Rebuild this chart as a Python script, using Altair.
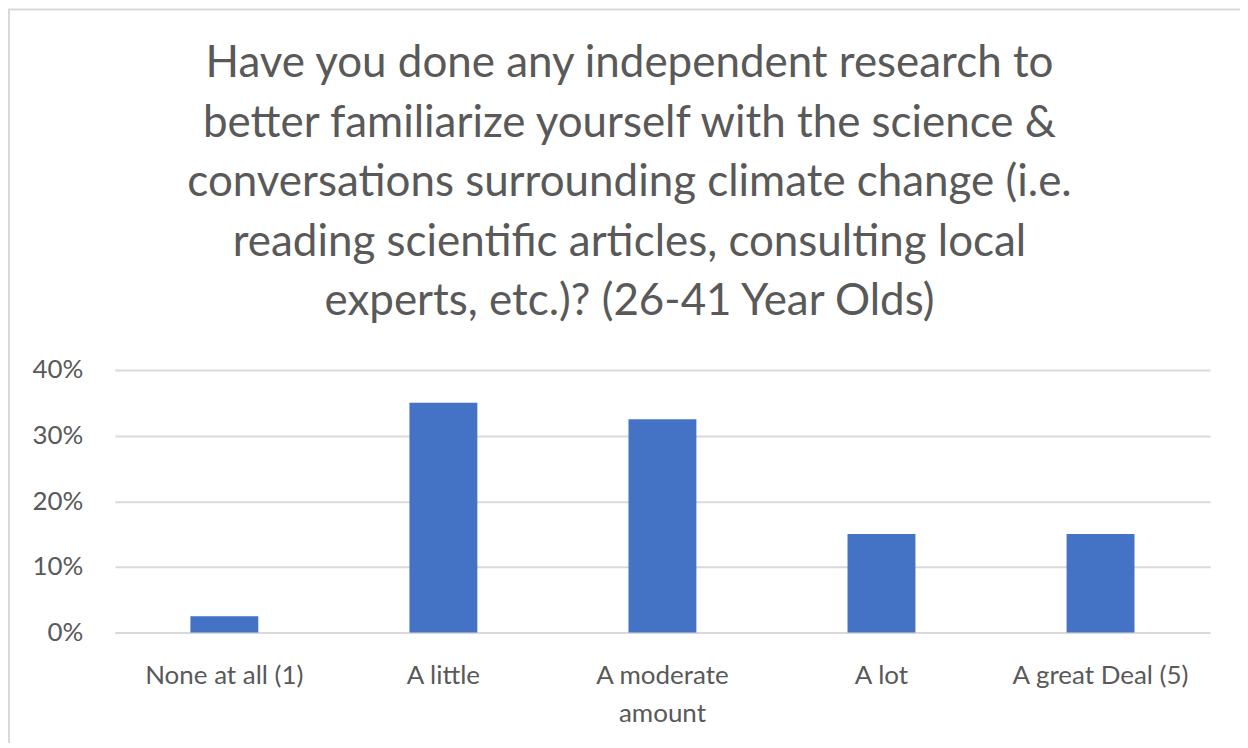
import altair as alt
import pandas as pd

categories = ["None at all (1)", "A little", "A moderate amount", "A lot", "A great Deal (5)"]
shares = [0.025, 0.35, 0.325, 0.15, 0.15]
y_ticks = [0, 0.1, 0.2, 0.3, 0.4]
title_lines = [
    "Have you done any independent research to",
    "better familiarize yourself with the science &",
    "conversations surrounding climate change (i.e.",
    "reading scientific articles, consulting local",
    "experts, etc.)? (26-41 Year Olds)",
]

df = pd.DataFrame({"category": categories, "share": shares})

FONT = "Lato"
TXT = "#595959"

bars = alt.Chart(df).mark_bar(color="#4472C4").encode(
    x=alt.X(
        "category:N",
        sort=categories,
        title=None,
        scale=alt.Scale(paddingInner=0.69, paddingOuter=0.345),
        axis=alt.Axis(
            labelAngle=0,
            labelFont=FONT,
            labelFontSize=26,
            labelColor=TXT,
            labelPadding=30,
            labelLineHeight=38,
            ticks=False,
            domain=False,
            grid=False,
            labelExpr="datum.value == 'A moderate amount' ? ['A moderate', 'amount'] : datum.value",
        ),
    ),
    y=alt.Y(
        "share:Q",
        title=None,
        scale=alt.Scale(domain=[0, 0.4], nice=False),
        axis=alt.Axis(
            values=y_ticks,
            format=".0%",
            labelFont=FONT,
            labelFontSize=26,
            labelColor=TXT,
            labelPadding=32,
            ticks=False,
            domain=False,
            gridColor="#D9D9D9",
            gridWidth=2,
        ),
    ),
)

border = alt.Chart(pd.DataFrame({"k": [0]})).mark_rect(
    fill="transparent", stroke="#D9D9D9", strokeWidth=2
).encode(
    x=alt.value(-106), x2=alt.value(1240), y=alt.value(-361), y2=alt.value(500)
)

chart = alt.layer(border, bars).properties(
    width=1097,
    height=263,
    autosize=alt.AutoSizeParams(type="none"),
    padding={"left": 107, "top": 362, "right": 30, "bottom": 110},
    title=alt.TitleParams(
        text=title_lines,
        font=FONT,
        fontSize=44,
        fontWeight="normal",
        color=TXT,
        lineHeight=59.6,
        anchor="middle",
        dx=-33,
        offset=-316,
    ),
).configure_view(stroke=None)

chart.save("out.html", embed_options={"renderer": "svg", "actions": False})
